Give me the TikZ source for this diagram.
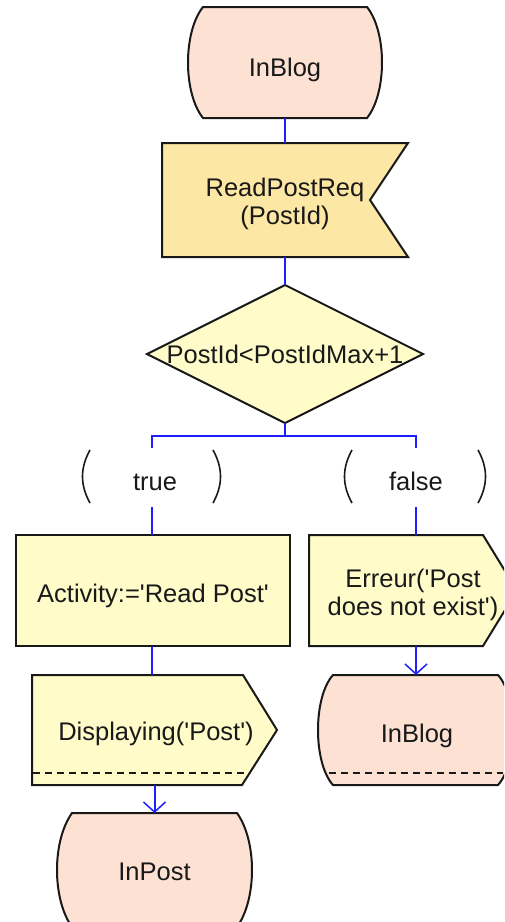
\documentclass[tikz,border=0pt]{standalone}
\usepackage{fontspec}
\newfontfamily\uifont{Liberation Sans}
\usetikzlibrary{arrows.meta,calc}

\definecolor{statefill}{RGB}{253,226,212}
\definecolor{inputfill}{RGB}{252,231,164}
\definecolor{taskfill}{RGB}{255,252,202}
\definecolor{flowblue}{RGB}{30,30,255}
\definecolor{edgeink}{RGB}{25,25,25}

\tikzset{
  outline/.style={draw=edgeink, line width=2pt, line join=miter},
  txt/.style={inner sep=0pt, outer sep=0pt, align=center, text=edgeink,
    font=\uifont\fontsize{25.5}{27.5}\selectfont},
  % place the last baseline #1/2 below the node centre
  bl/.style={text height=#1, text depth=0pt},
  flow/.style={draw=flowblue, line width=2pt},
  flowarrow/.style={flow, -{Straight Barb[length=10pt,width=22pt,line width=1.5pt]}},
  paren/.style={draw=edgeink, line width=1.6pt},
  sepline/.style={draw=edgeink, line width=2pt, dash pattern=on 7pt off 5pt},
}

\begin{document}
\begin{tikzpicture}[x=1pt,y=-1pt]
\useasboundingbox (0,0) rectangle (504,922);
\fill[white] (0,0) rectangle (504,922);
\clip (0,0) rectangle (504,922);

% ---- shape outlines ----
% start state
\filldraw[outline, fill=statefill] (203,7) -- (367,7)
  .. controls (387,32) and (387,93) .. (367,118) -- (203,118)
  .. controls (183,93) and (183,32) .. (203,7) -- cycle;
% input signal
\filldraw[outline, fill=inputfill] (162,143) -- (408,143) -- (370,200)
  -- (408,257) -- (162,257) -- cycle;
% decision
\filldraw[outline, fill=taskfill] (285,285) -- (423,354) -- (285,423)
  -- (147,354) -- cycle;
% task
\filldraw[outline, fill=taskfill] (16,535) rectangle (290,646);
% output signal (true branch)
\filldraw[outline, fill=taskfill] (32,675) -- (243,675) -- (277,730)
  -- (242,785) -- (32,785) -- cycle;
\draw[sepline] (33,773) -- (249.5,773);
% output signal (false branch)
\filldraw[outline, fill=taskfill] (309,535) -- (483,535) -- (517,590.5)
  -- (483,646) -- (309,646) -- cycle;
% next state (false branch)
\filldraw[outline, fill=statefill] (333,675) -- (498,675)
  .. controls (518,697) and (518,763) .. (498,785) -- (333,785)
  .. controls (313,763) and (313,697) .. (333,675) -- cycle;
\draw[sepline] (328.5,773) -- (503,773);
% next state (true branch)
\filldraw[outline, fill=statefill] (72,813) -- (237,813)
  .. controls (257,841) and (257,899) .. (237,927) -- (72,927)
  .. controls (52,899) and (52,841) .. (72,813) -- cycle;

% branch answer brackets
\draw[paren] (90,450) .. controls (80,468) and (80,485) .. (90,503);
\draw[paren] (213,450) .. controls (223,468) and (223,485) .. (213,503);
\draw[paren] (352,450) .. controls (342,468) and (342,485) .. (352,503);
\draw[paren] (478,450) .. controls (488,468) and (488,485) .. (478,503);

% ---- nodes ----
\node[txt, bl=27pt, minimum width=194pt, minimum height=111pt] (start) at (285,62.5) {InBlog};
\node[txt, bl=48pt, minimum width=246pt, minimum height=114pt] (req) at (285,200)
  {ReadPostReq\\(PostId)};
\node[txt, bl=18pt, minimum width=276pt, minimum height=138pt] (cond) at (285,354)
  {PostId<PostIdMax+1};
\node[txt, bl=25pt, minimum width=80pt, minimum height=59pt] (truelbl) at (152,477.5) {\hspace{6pt}true};
\node[txt, bl=25pt, minimum width=80pt, minimum height=59pt] (falselbl) at (416,477.5) {false};
\node[txt, bl=23pt, minimum width=274pt, minimum height=111pt] (act) at (153,590.5)
  {Activity:='Read Post'};
\node[txt, bl=49pt, minimum width=208pt, minimum height=111pt] (err) at (413,590.5)
  {Erreur('Post\\does not exist')};
\node[txt, bl=20pt, minimum width=245pt, minimum height=110pt] (disp) at (156,730)
  {Displaying('Post')};
\node[txt, bl=24pt, minimum width=191pt, minimum height=110pt] (blog2) at (417,730)
  {InBlog};
\node[txt, bl=20pt, minimum width=195pt, minimum height=114pt] (inpost) at (154.5,870)
  {InPost};

% ---- connectors ----
\coordinate (split) at (285,436);
\draw[flow] (start.south) -- (req.north);
\draw[flow] (req.south) -- (cond.north);
\draw[flow] (cond.south) -- (split);
\draw[flow] (truelbl.north) |- (split) -| (falselbl.north);
\draw[flow] (truelbl.south) -- (truelbl.south |- act.north);
\draw[flow] (falselbl.south) -- (falselbl.south |- err.north);
\draw[flow] (truelbl.south |- act.south) -- (truelbl.south |- disp.north);
\draw[flowarrow] (falselbl.south |- err.south) -- (falselbl.south |- blog2.north);
\draw[flowarrow] (inpost.north |- disp.south) -- (inpost.north);
\end{tikzpicture}
\end{document}
